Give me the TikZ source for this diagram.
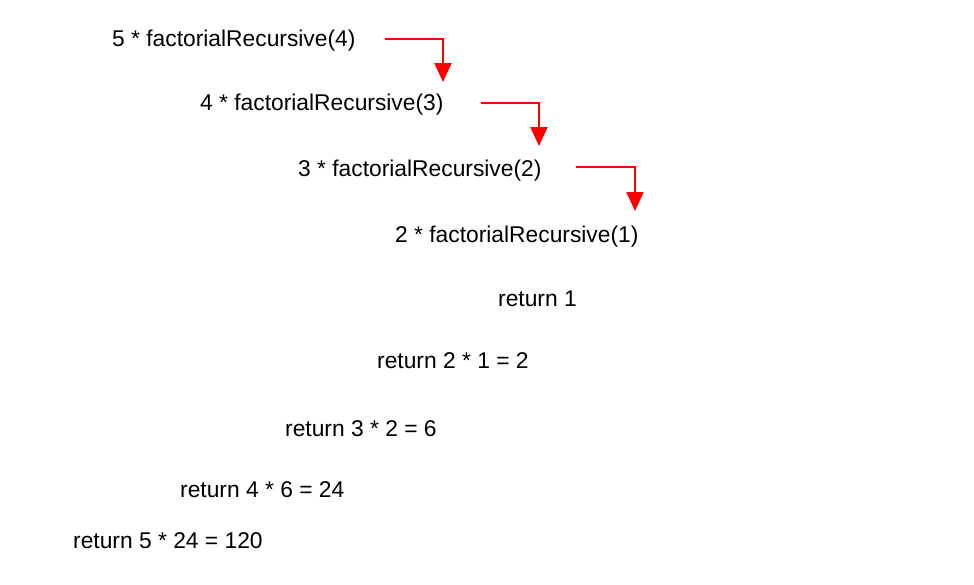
\documentclass[tikz,border=0pt]{standalone}
\usepackage{fontspec}
\setmainfont{Liberation Sans}
\usetikzlibrary{arrows.meta}
\begin{document}
\begin{tikzpicture}[x=1pt,y=-1pt,
  lbl/.style={anchor=base west,inner sep=0pt,font=\fontsize{22.8}{27}\selectfont},
  redarrow/.style={draw=red,line width=2pt,-{Triangle[length=19pt,width=17pt]}}]
\useasboundingbox (0,0) rectangle (974,584);
\node[lbl] (c5) at (112,46) {5 * factorialRecursive(4)};
\node[lbl] (c4) at (200,110) {4 * factorialRecursive(3)};
\node[lbl] (c3) at (298,176) {3 * factorialRecursive(2)};
\node[lbl] (c2) at (395,242) {2 * factorialRecursive(1)};
\node[lbl] (r1) at (498,306) {return 1};
\node[lbl] (r2) at (377,368) {return 2 * 1 = 2};
\node[lbl] (r3) at (285,436) {return 3 * 2 = 6};
\node[lbl] (r4) at (180,497) {return 4 * 6 = 24};
\node[lbl] (r5) at (73,548) {return 5 * 24 = 120};
\coordinate (a1s) at (385,39);
\coordinate (a1e) at (443,82);
\coordinate (a2s) at (481,103);
\coordinate (a2e) at (539,146);
\coordinate (a3s) at (576,167);
\coordinate (a3e) at (635,211);
\draw[redarrow] (a1s) -| (a1e);
\draw[redarrow] (a2s) -| (a2e);
\draw[redarrow] (a3s) -| (a3e);
\end{tikzpicture}
\end{document}
